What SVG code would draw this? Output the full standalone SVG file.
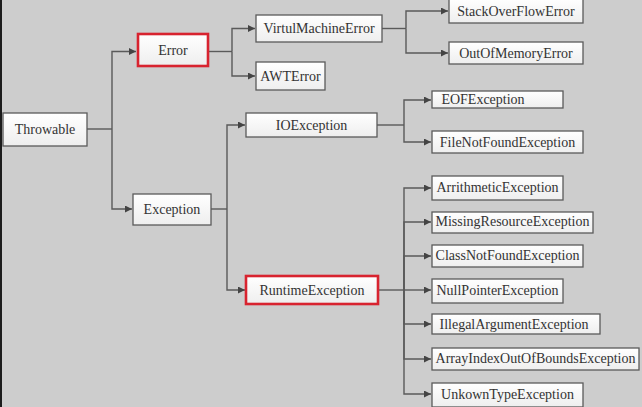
<svg xmlns="http://www.w3.org/2000/svg" width="642" height="407" viewBox="0 0 642 407">
<style>
.bg{fill:#cdcdcd}
.box rect{fill:url(#g);stroke:#5a5a5a;stroke-width:1.3}
.box.red rect{stroke:#d8232f;stroke-width:2.6}
.box text{font-size:14px;fill:#333;text-anchor:middle;dominant-baseline:central}
#connectors path{fill:none;stroke:#5a5a5a;stroke-width:1.4;marker-end:url(#arr)}
#connectors path.plain{marker-end:none}
</style>
<defs>
<linearGradient id="g" x1="0" y1="0" x2="0" y2="1">
<stop offset="0" stop-color="#ffffff"/>
<stop offset="1" stop-color="#eeeeee"/>
</linearGradient>
<marker id="arr" viewBox="0 0 10 10" refX="10" refY="5" markerWidth="9" markerHeight="7" markerUnits="userSpaceOnUse" orient="auto">
<path d="M0,0 L10,5 L0,10 Z" fill="#444"/>
</marker>
</defs>
<rect class="bg" x="0" y="0" width="642" height="407"/>
<rect x="0" y="0" width="2" height="407" fill="#1c1c1c"/>

<g id="connectors">
<path class="plain" d="M87,129 H112"/>
<path d="M112,129 V51.5 H136"/>
<path d="M112,129 V209 H132"/>
<path class="plain" d="M208,51.5 H232"/>
<path d="M232,51.5 V28.5 H255"/>
<path d="M232,51.5 V76 H255"/>
<path class="plain" d="M211,209 H227"/>
<path d="M227,209 V125 H245"/>
<path d="M227,209 V290 H245"/>
<path class="plain" d="M382,28.5 H406"/>
<path d="M406,28.5 V11 H448"/>
<path d="M406,28.5 V53 H448"/>
<path class="plain" d="M377,125 H404"/>
<path d="M404,125 V100 H431"/>
<path d="M404,125 V142 H431"/>
<path class="plain" d="M378,290 H404"/>
<path d="M404,290 V188 H431"/>
<path d="M404,290 V222 H431"/>
<path d="M404,290 V256 H431"/>
<path d="M404,290 H431"/>
<path d="M404,290 V324 H431"/>
<path d="M404,290 V359 H431"/>
<path d="M404,290 V394 H431"/>
</g>

<g font-family="Liberation Serif, Times New Roman, serif">
<g id="throwable" class="box"><rect x="3" y="113" width="84" height="33"/><text x="45" y="129.5">Throwable</text></g>
<g id="error" class="box red"><rect x="138" y="34" width="70" height="32"/><text x="173" y="50.5">Error</text></g>
<g id="exception" class="box"><rect x="133" y="194" width="78" height="31"/><text x="172" y="209.5">Exception</text></g>
<g id="vme" class="box"><rect x="256" y="15" width="126" height="27"/><text x="319" y="28.5">VirtulMachineError</text></g>
<g id="awterror" class="box"><rect x="256" y="62" width="69" height="28"/><text x="290.5" y="76">AWTError</text></g>
<g id="ioexception" class="box"><rect x="246" y="113" width="131" height="24"/><text x="311.5" y="125">IOException</text></g>
<g id="runtime" class="box red"><rect x="246" y="276" width="132" height="28"/><text x="312" y="290">RuntimeException</text></g>
<g id="stackoverflow" class="box"><rect x="449" y="-1" width="134" height="24"/><text x="516" y="11">StackOverFlowError</text></g>
<g id="outofmemory" class="box"><rect x="449" y="42" width="134" height="22"/><text x="516" y="53">OutOfMemoryError</text></g>
<g id="eof" class="box"><rect x="432" y="91" width="131" height="17"/><text x="483" y="99.5">EOFException</text></g>
<g id="filenotfound" class="box"><rect x="432" y="131" width="151" height="22"/><text x="507.5" y="142">FileNotFoundException</text></g>
<g id="arith" class="box"><rect x="432" y="176" width="131" height="24"/><text x="497.5" y="187">ArrithmeticException</text></g>
<g id="missing" class="box"><rect x="432" y="212" width="161" height="21"/><text x="512.5" y="221.5">MissingResourceException</text></g>
<g id="classnotfound" class="box"><rect x="432" y="245" width="151" height="22"/><text x="507.5" y="255.5">ClassNotFoundException</text></g>
<g id="nullpointer" class="box"><rect x="432" y="279" width="131" height="24"/><text x="497.5" y="290">NullPointerException</text></g>
<g id="illegal" class="box"><rect x="432" y="314" width="168" height="20"/><text x="514" y="324">IllegalArgumentException</text></g>
<g id="arrayindex" class="box"><rect x="432" y="348" width="207" height="22"/><text x="535.5" y="358.5">ArrayIndexOutOfBoundsException</text></g>
<g id="unkown" class="box"><rect x="432" y="383" width="151" height="24"/><text x="507.5" y="394">UnkownTypeException</text></g>
</g>
</svg>
